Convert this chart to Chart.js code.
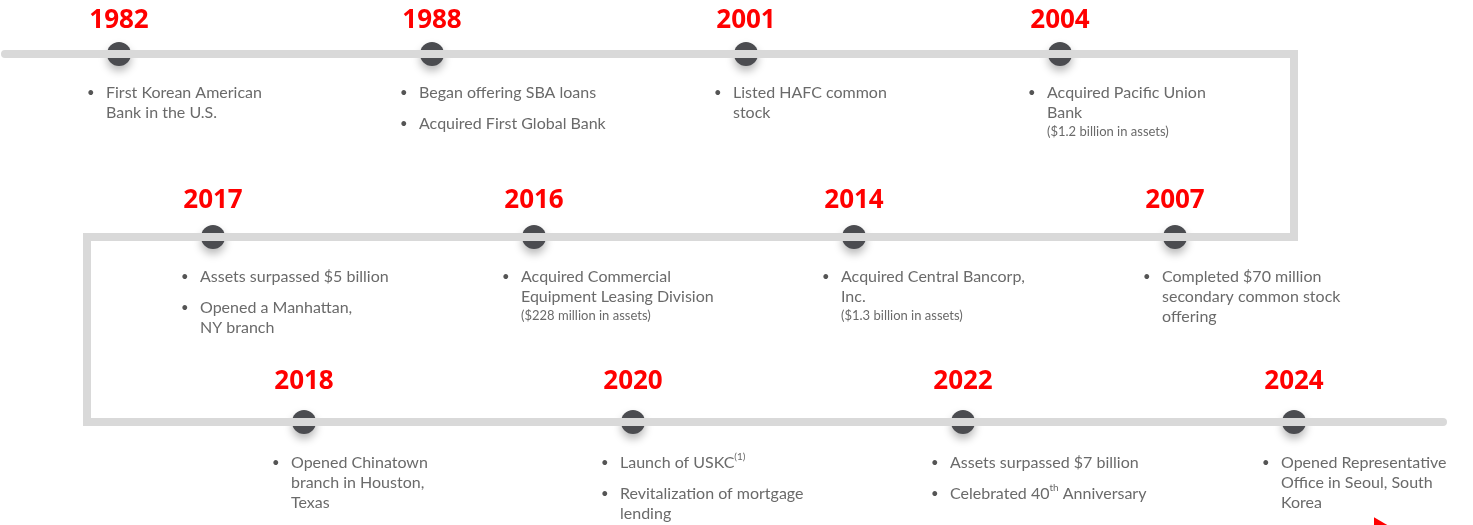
<!DOCTYPE html>
<html>
<head>
<meta charset="utf-8">
<script src="https://cdn.jsdelivr.net/npm/chart.js@4.4.1/dist/chart.umd.min.js"></script>
<style>
  html, body { margin: 0; padding: 0; background: #fff; }
  #wrap { width: 1473px; height: 525px; }
</style>
</head>
<body>
<div id="wrap"><canvas id="c" width="1473" height="525"></canvas></div>
<script>
// timeline milestones, read left-to-right along the snake path
const years = ['1982', '1988', '2001', '2004', '2017', '2016', '2014', '2007', '2018', '2020', '2022', '2024'];
const rows = [0, 0, 0, 0, 1, 1, 1, 1, 2, 2, 2, 2];
const dotX = [119, 432, 746, 1060, 213, 534, 854, 1175, 304, 633, 963, 1294];
const rowY = [54, 237, 422];

// the grey track that snakes through the rows
const trackX = [5, 1294, 1294, 87, 87, 1443];
const trackY = [54, 54, 237, 237, 422, 422];

// bullets: each bullet is a list of wrapped lines, {..} = superscript
const bullets = [
  [['First Korean American', 'Bank in the U.S.']],
  [['Began offering SBA loans'], ['Acquired First Global Bank']],
  [['Listed HAFC common', 'stock']],
  [['Acquired Pacific Union', 'Bank']],
  [['Assets surpassed $5 billion'], ['Opened a Manhattan,', 'NY branch']],
  [['Acquired Commercial', 'Equipment Leasing Division']],
  [['Acquired Central Bancorp,', 'Inc.']],
  [['Completed $70 million', 'secondary common stock', 'offering']],
  [['Opened Chinatown', 'branch in Houston,', 'Texas']],
  [['Launch of USKC{(1)}'], ['Revitalization of mortgage', 'lending']],
  [['Assets surpassed $7 billion'], ['Celebrated 40{th} Anniversary']],
  [['Opened Representative', 'Office in Seoul, South', 'Korea']]
];
const notes = ['', '', '', '($1.2 billion in assets)', '', '($228 million in assets)', '($1.3 billion in assets)', '', '', '', '', ''];

const RED = '#ff0000';
const TRACK = '#d9d9d9';
const DOT = '#4b4c50';
const TEXT = '#6a6a6a';
const YEAR_GAP = [33, 36, 40]; // year label distance above the dot, per row

function drawRich(ctx, str, x, y, size) {
  const parts = str.split(/(\{[^}]*\})/);
  let cx = x;
  parts.forEach(p => {
    if (!p) return;
    if (p[0] === '{') {
      const s = p.slice(1, -1);
      ctx.font = Math.round(size * 0.6) + 'px Lato';
      ctx.fillText(s, cx, y - size * 0.36);
      cx += ctx.measureText(s).width;
    } else {
      ctx.font = size + 'px Lato';
      ctx.fillText(p, cx, y);
      cx += ctx.measureText(p).width;
    }
  });
}

const labelPlugin = {
  id: 'labels',
  beforeDatasetDraw(chart, args) {
    if (args.index === 1) {
      const ctx = chart.ctx;
      ctx.save();
      ctx.shadowColor = 'rgba(0,0,0,0.28)';
      ctx.shadowBlur = 9;
      ctx.shadowOffsetY = 5;
    }
  },
  afterDatasetDraw(chart, args) {
    if (args.index === 1) chart.ctx.restore();
  },
  afterDatasetsDraw(chart) {
    const ctx = chart.ctx;
    const xs = chart.scales.x, ys = chart.scales.y;
    ctx.save();
    years.forEach((yr, i) => {
      const px = xs.getPixelForValue(dotX[i]);
      const py = ys.getPixelForValue(rowY[rows[i]]);
      // year label
      ctx.fillStyle = RED;
      ctx.font = 'bold 26px "Open Sans"';
      ctx.textAlign = 'center';
      ctx.textBaseline = 'middle';
      ctx.fillText(yr, px, py - YEAR_GAP[rows[i]]);
      // bullet list
      ctx.textAlign = 'left';
      const tx = px - 13;
      let ty = py + 39 + rows[i];
      bullets[i].forEach((b, bi) => {
        if (bi > 0) ty += 11;
        ctx.fillStyle = '#555';
        ctx.font = '13px Lato';
        ctx.fillText('•', tx - 19, ty);
        ctx.fillStyle = TEXT;
        b.forEach((line, li) => {
          drawRich(ctx, line, tx, ty, 16);
          if (li < b.length - 1) ty += 20;
        });
        ty += 20;
      });
      if (notes[i]) {
        ctx.fillStyle = TEXT;
        ctx.font = '13px Lato';
        ctx.fillText(notes[i], tx, ty - 1);
      }
    });
    ctx.restore();
  }
};

new Chart(document.getElementById('c'), {
  type: 'scatter',
  data: {
    datasets: [
      {
        data: trackX.map((x, i) => ({ x, y: trackY[i] })),
        showLine: true,
        borderColor: TRACK,
        borderWidth: 8,
        borderCapStyle: 'round',
        borderJoinStyle: 'miter',
        pointRadius: 0,
        clip: false
      },
      {
        data: dotX.map((x, i) => ({ x, y: rowY[rows[i]] })),
        pointRadius: 12,
        backgroundColor: DOT,
        borderWidth: 0,
        clip: false
      },
      {
        // little red arrow peeking at the bottom edge
        data: [{ x: 1379, y: 526 }],
        pointStyle: 'triangle',
        rotation: 90,
        pointRadius: 10,
        backgroundColor: RED,
        borderWidth: 0,
        clip: false
      }
    ]
  },
  options: {
    responsive: false,
    animation: false,
    events: [],
    layout: { padding: 0, autoPadding: false },
    plugins: { legend: { display: false }, tooltip: { enabled: false } },
    scales: {
      x: { type: 'linear', min: 0, max: 1473, display: false },
      y: { type: 'linear', min: 0, max: 525, reverse: true, display: false }
    }
  },
  plugins: [labelPlugin]
});
</script>
</body>
</html>
